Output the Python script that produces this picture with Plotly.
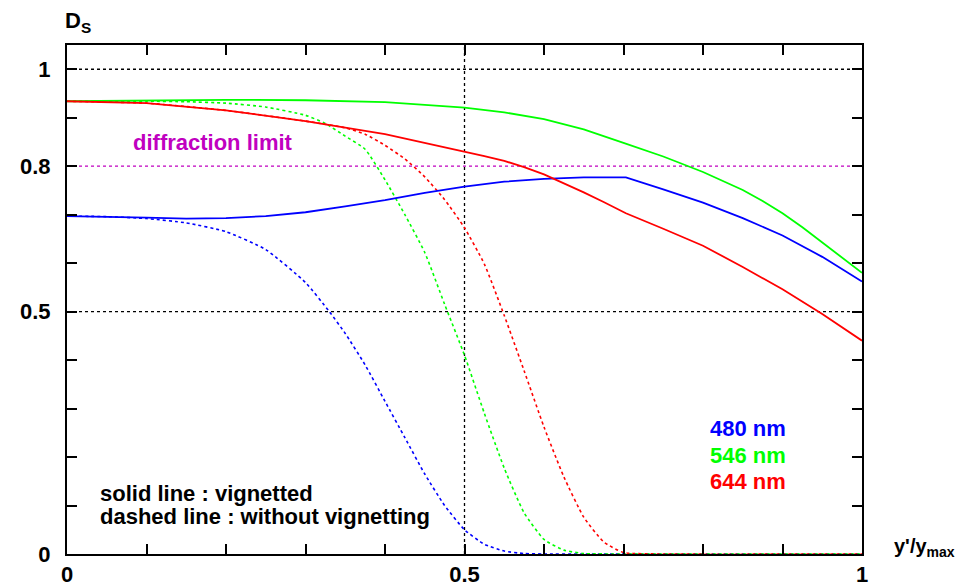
import plotly.graph_objects as go

# ---- data ----
x_blue_solid = [0.0, 0.05, 0.1, 0.15, 0.2, 0.25, 0.3, 0.35, 0.4, 0.45, 0.5, 0.55, 0.6, 0.65, 0.703, 0.75, 0.8, 0.85, 0.9, 0.95, 1.0]
y_blue_solid = [0.697, 0.696, 0.694, 0.692, 0.693, 0.697, 0.705, 0.717, 0.730, 0.745, 0.758, 0.768, 0.774, 0.777, 0.777, 0.752, 0.725, 0.693, 0.657, 0.613, 0.562]

x_green_solid = [0.0, 0.1, 0.2, 0.3, 0.4, 0.5, 0.55, 0.6, 0.65, 0.7, 0.75, 0.8, 0.825, 0.85, 0.875, 0.9, 0.925, 0.95, 0.975, 1.0]
y_green_solid = [0.934, 0.936, 0.937, 0.936, 0.932, 0.921, 0.911, 0.897, 0.876, 0.848, 0.82, 0.788, 0.770, 0.751, 0.728, 0.703, 0.674, 0.643, 0.612, 0.58]

x_red_solid = [0.0, 0.1, 0.2, 0.3, 0.4, 0.5, 0.525, 0.55, 0.575, 0.6, 0.625, 0.65, 0.675, 0.703, 0.75, 0.8, 0.85, 0.9, 0.95, 1.0]
y_red_solid = [0.934, 0.930, 0.915, 0.893, 0.866, 0.831, 0.821, 0.811, 0.798, 0.783, 0.765, 0.746, 0.726, 0.703, 0.671, 0.636, 0.592, 0.546, 0.495, 0.44]

x_blue_dash = [0.0, 0.05, 0.1, 0.15, 0.2, 0.25, 0.3, 0.33, 0.35, 0.375, 0.4, 0.425, 0.45, 0.475, 0.5, 0.525, 0.55, 0.575, 0.6, 0.65, 1.0]
y_blue_dash = [0.697, 0.696, 0.692, 0.683, 0.665, 0.628, 0.56, 0.50, 0.455, 0.39, 0.315, 0.24, 0.165, 0.10, 0.05, 0.02, 0.006, 0.001, 0.0, 0.0, 0.0]

x_green_dash = [0.0, 0.1, 0.15, 0.2, 0.25, 0.3, 0.325, 0.35, 0.375, 0.4, 0.425, 0.45, 0.475, 0.5, 0.525, 0.55, 0.575, 0.6, 0.625, 0.65, 0.7, 1.0]
y_green_dash = [0.934, 0.934, 0.933, 0.93, 0.922, 0.905, 0.888, 0.862, 0.835, 0.772, 0.70, 0.622, 0.515, 0.41, 0.29, 0.177, 0.085, 0.03, 0.008, 0.001, 0.0, 0.0]

x_red_dash = [0.0, 0.1, 0.2, 0.3, 0.35, 0.375, 0.4, 0.425, 0.45, 0.475, 0.5, 0.525, 0.55, 0.575, 0.6, 0.625, 0.65, 0.675, 0.7, 0.75, 1.0]
y_red_dash = [0.934, 0.930, 0.915, 0.893, 0.879, 0.866, 0.843, 0.815, 0.778, 0.731, 0.673, 0.598, 0.492, 0.378, 0.262, 0.159, 0.076, 0.025, 0.003, 0.0, 0.0]

ref_y = [1.0, 0.5]
ref_x = [0.5]
diffraction_limit = 0.8

x_tickvals = [0.0, 0.5, 1.0]
x_ticktext = ["0", "0.5", "1"]
y_tickvals = [0.0, 0.5, 0.8, 1.0]
y_ticktext = ["0", "0.5", "0.8", "1"]
tick_step = 0.1

labels = ["480 nm", "546 nm", "644 nm"]
colors = ["#0000ff", "#00ff00", "#ff0000"]
MAG = "#c000c0"
FONT = "Liberation Sans"
FS = 22

fig = go.Figure()

dash_pat = "3px,3px"
for xs, ys, c in [(x_blue_dash, y_blue_dash, colors[0]), (x_green_dash, y_green_dash, colors[1]), (x_red_dash, y_red_dash, colors[2])]:
    fig.add_trace(go.Scatter(x=xs, y=ys, mode="lines", line=dict(color=c, width=1.6, dash=dash_pat, shape="spline", smoothing=0.5), showlegend=False, hoverinfo="skip"))
for xs, ys, c in [(x_blue_solid, y_blue_solid, colors[0]), (x_green_solid, y_green_solid, colors[1]), (x_red_solid, y_red_solid, colors[2])]:
    fig.add_trace(go.Scatter(x=xs, y=ys, mode="lines", line=dict(color=c, width=1.8), showlegend=False, hoverinfo="skip"))

shapes = []
for yv in ref_y:
    shapes.append(dict(type="line", xref="x", yref="y", x0=0, x1=1, y0=yv, y1=yv, line=dict(color="black", width=1.3, dash=dash_pat), layer="below"))
for xv in ref_x:
    shapes.append(dict(type="line", xref="x", yref="y", x0=xv, x1=xv, y0=0, y1=1.05, line=dict(color="black", width=1.3, dash=dash_pat), layer="below"))
shapes.append(dict(type="line", xref="x", yref="y", x0=0, x1=1, y0=diffraction_limit, y1=diffraction_limit, line=dict(color=MAG, width=1.3, dash=dash_pat), layer="below"))

bold = lambda s: "<b>" + s + "</b>"
ann = []
ann.append(dict(x=0.0806, y=0.849, xref="x", yref="y", text=bold("diffraction limit"), showarrow=False, xanchor="left", yanchor="middle", font=dict(family=FONT, size=FS, color=MAG)))
ann.append(dict(x=0.039, y=0.124, xref="x", yref="y", text=bold("solid line : vignetted"), showarrow=False, xanchor="left", yanchor="middle", font=dict(family=FONT, size=FS, color="black")))
ann.append(dict(x=0.039, y=0.077, xref="x", yref="y", text=bold("dashed line : without vignetting"), showarrow=False, xanchor="left", yanchor="middle", font=dict(family=FONT, size=FS, color="black")))
for lab, c, yy in zip(labels, colors, [0.258, 0.2025, 0.149]):
    ann.append(dict(x=0.806, y=yy, xref="x", yref="y", text=bold(lab), showarrow=False, xanchor="left", yanchor="middle", font=dict(family=FONT, size=FS, color=c)))
ann.append(dict(x=-0.005, y=1.045, xref="paper", yref="paper", text="<b>D<sub>S</sub></b>", showarrow=False, xanchor="left", yanchor="middle", font=dict(family=FONT, size=FS, color="black")))
ann.append(dict(x=1.038, y=0.012, xref="paper", yref="paper", text="<b>y'/y<sub>max</sub></b>", showarrow=False, xanchor="left", yanchor="middle", font=dict(family=FONT, size=20, color="black")))

# page body has an 8px default margin; compensate so the plot box lands where the reference has it
fig.update_layout(
    width=958, height=580,
    margin=dict(l=59, r=104, t=37, b=34, autoexpand=False),
    paper_bgcolor="white", plot_bgcolor="white",
    shapes=shapes, annotations=ann, showlegend=False,
    font=dict(family=FONT, size=FS, color="black"),
)
minor = dict(ticks="inside", ticklen=10, tickwidth=1.5, tickcolor="black", dtick=tick_step, tick0=0, showgrid=False)
fig.update_xaxes(range=[0, 1], tickvals=x_tickvals, ticktext=[bold(t) for t in x_ticktext],
                 ticks="inside", ticklen=10, tickwidth=1.5, tickcolor="black", minor=minor,
                 showline=True, linecolor="black", linewidth=2, mirror="ticks",
                 showgrid=False, zeroline=False, ticklabelstandoff=0, automargin=False,
                 tickfont=dict(family=FONT, size=FS, color="black"))
fig.update_yaxes(range=[0, 1.05], tickvals=y_tickvals, ticktext=[bold(t) for t in y_ticktext],
                 ticks="inside", ticklen=10, tickwidth=1.5, tickcolor="black", minor=minor,
                 showline=True, linecolor="black", linewidth=2, mirror="ticks",
                 showgrid=False, zeroline=False, ticklabelstandoff=10, automargin=False,
                 tickfont=dict(family=FONT, size=FS, color="black"))

fig.write_html("out.html")
